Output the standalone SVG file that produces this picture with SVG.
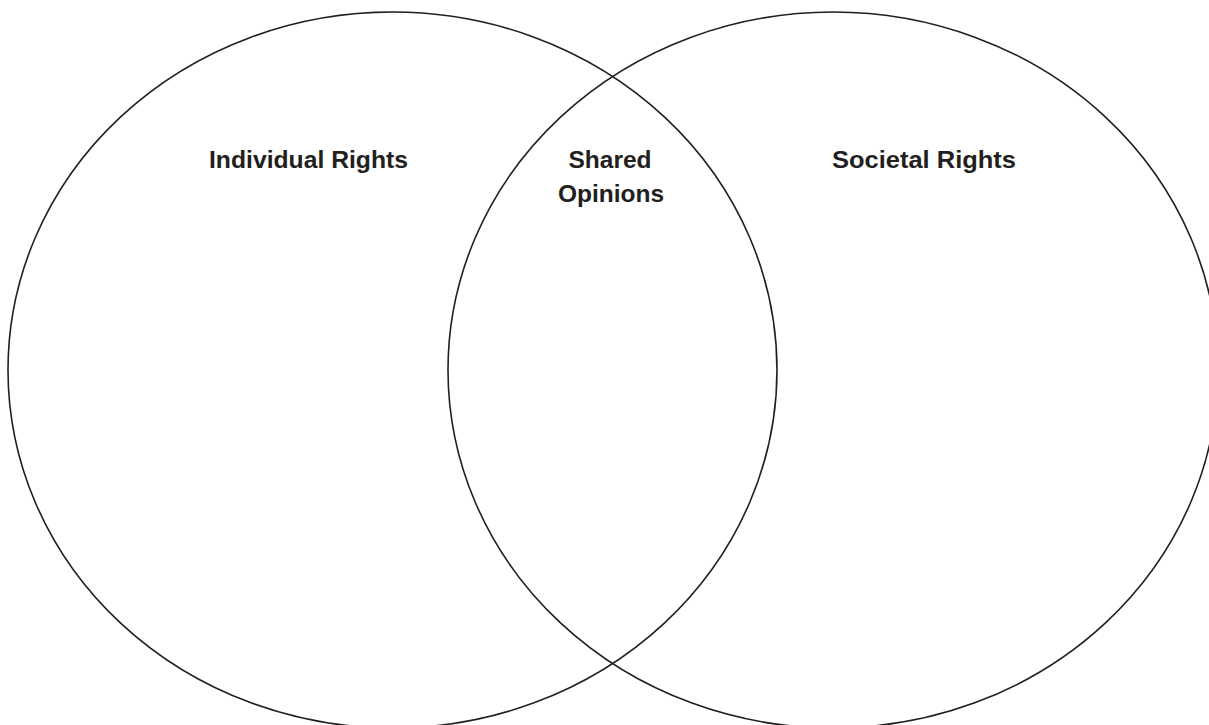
<svg xmlns="http://www.w3.org/2000/svg" width="1209" height="725" viewBox="0 0 1209 725">
<style>
.c{fill:none;stroke:#231f20;stroke-width:1.6}
.t{font-family:"Liberation Sans",Arial,sans-serif;font-weight:bold;font-size:24.5px;fill:#231f20}
</style>
<rect width="1209" height="725" fill="#fff"/>
<g id="left-circle">
<ellipse class="c" cx="392.5" cy="370" rx="384.5" ry="358"/>
<text class="t" x="209" y="168" textLength="199" lengthAdjust="spacingAndGlyphs">Individual Rights</text>
</g>
<g id="right-circle">
<ellipse class="c" cx="833" cy="370" rx="385" ry="358"/>
<text class="t" x="832" y="168" textLength="184" lengthAdjust="spacingAndGlyphs">Societal Rights</text>
</g>
<g id="overlap">
<text class="t" x="610" y="168" text-anchor="middle">Shared</text>
<text class="t" x="611" y="202" text-anchor="middle">Opinions</text>
</g>
</svg>
